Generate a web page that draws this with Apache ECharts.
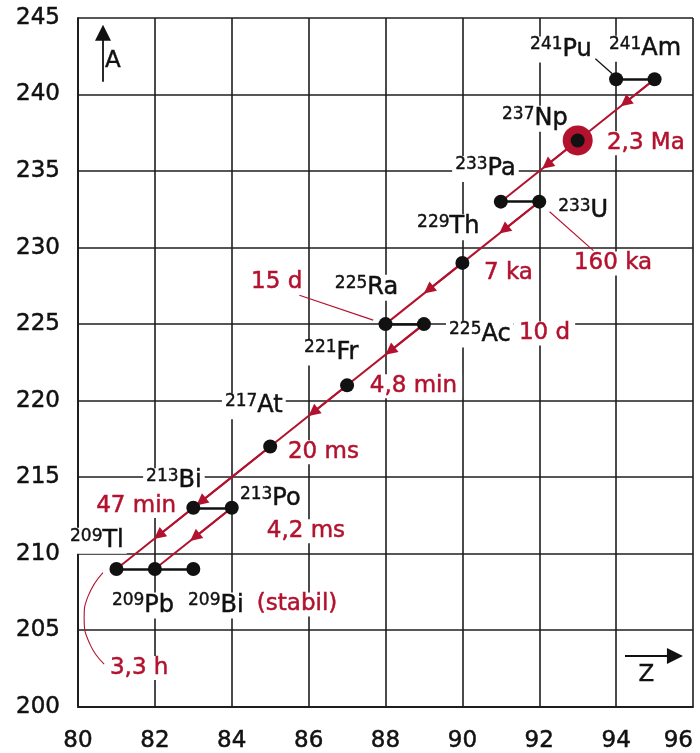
<!DOCTYPE html>
<html><head><meta charset="utf-8">
<script src="https://cdn.jsdelivr.net/npm/echarts@6/dist/echarts.min.js"></script>
<style>html,body{margin:0;padding:0;background:#fff}#c{width:700px;height:753px}</style>
</head><body><div id="c"></div>
<script>
// ---- data ----
const zRange = [80, 96, 2];      // min, max, interval (proton number Z)
const aRange = [200, 245, 5];    // min, max, interval (mass number A)
const nuclideSymbols = ['Pu','Am','Np','Pa','U','Th','Ra','Ac','Fr','At','Bi','Po','Tl','Pb','Bi'];
const nuclideZ = [94,95,93,91,92,90,88,89,87,85,83,84,81,82,83];
const nuclideA = [241,241,237,233,233,229,225,225,221,217,213,213,209,209,209];
const betaDecays = [[0,1],[3,4],[6,7],[10,11],[12,13],[13,14]];
const alphaDecays = [[1,2],[2,3],[4,5],[5,6],[7,8],[8,9],[9,10],[10,12],[11,13]];
const halfLifeTexts = ['2,3 Ma','160 ka','7 ka','15 d','10 d','4,8 min','20 ms','47 min','4,2 ms','(stabil)','3,3 h'];
const markedNuclide = 2; // 237Np

// ---- layout (label anchors in data units, not data) ----
const nuclideLabelPos = [[91.71,243.08],[93.76,243.12],[90.98,238.54],[89.76,235.26],[92.44,232.53],[88.77,231.46],[86.63,227.5],[89.6,224.45],[85.83,223.28],[83.77,219.77],[81.72,214.87],[84.16,213.7],[79.74,210.97],[80.83,206.75],[82.81,206.75]];
const halfLifePos = [[93.71,236.88],[92.85,229.03],[90.51,228.38],[84.45,227.82],[91.42,224.45],[87.54,221.0],[85.41,216.69],[80.42,213.18],[84.86,211.53],[84.6,206.75],[80.78,202.6]];
const arrowFrac = [0.38,0.4,0.46,0.44,0.44,0.44,0.9,0.45,0.48];
const blackLeaders = [[[93.46,242.34],[93.9,241.36]]];
const redLeaders = [[[92.27,232.34],[93.41,229.8]],[[85.76,226.88],[87.68,225.26]]];
const curveLeader = [[80.65,208.77],[80.26,207.21],[80.16,205.78],[80.31,204.09],[80.68,202.79]];
const axisArrows = [[[80.65,240.84],[80.65,244.03]],[[94.23,203.31],[95.53,203.31]]];
const axisNames = [{t:'A', p:[80.91,242.16]}, {t:'Z', p:[94.79,202.05]}];

const RED = '#b2122e', BLACK = '#111111', FONT = 'DejaVu Sans';
const pt = i => [nuclideZ[i], nuclideA[i]];

const chart = echarts.init(document.getElementById('c'), null, {renderer:'canvas'});
const axisCommon = {
  type:'value',
  axisLine:{show:true, lineStyle:{color:'#1e1e1e', width:2}},
  axisTick:{show:false},
  splitLine:{show:true, lineStyle:{color:'#1e1e1e', width:1.6}},
  axisLabel:{fontSize:23, color:'#111', fontFamily:FONT, textBorderColor:'#111', textBorderWidth:0.5}
};
const labelSeriesBase = {type:'scatter', z:2, silent:true, clip:false, symbolSize:0.01,
  itemStyle:{opacity:1, color:'rgba(0,0,0,0)'}};
const series = [];
// labels with white backgrounds
series.push(Object.assign({}, labelSeriesBase, {
  data: nuclideLabelPos.map((p,i)=>({value:p, label:{formatter:'{s|'+nuclideA[i]+'}{e|'+nuclideSymbols[i]+'}'}})),
  label:{show:true, position:'right', distance:0, offset:[-1,2], backgroundColor:'#fff', padding:[0,3,0,3],
    rich:{ s:{fontSize:17, fontFamily:FONT, color:BLACK, lineHeight:10, verticalAlign:'top', textBorderColor:BLACK, textBorderWidth:0.4},
           e:{fontSize:24, fontFamily:FONT, color:BLACK, lineHeight:26, textBorderColor:BLACK, textBorderWidth:0.5} } }
}));
series.push(Object.assign({}, labelSeriesBase, {
  data: halfLifePos.map((p,i)=>({value:p, label:{formatter:halfLifeTexts[i]}})),
  label:{show:true, position:'right', distance:0, offset:[-3,1], backgroundColor:'#fff', padding:[0,5,0,5],
    fontSize:23, fontFamily:FONT, color:RED, lineHeight:24, textBorderColor:RED, textBorderWidth:0.5}
}));
series.push(Object.assign({}, labelSeriesBase, {
  data: axisNames.map(o=>({value:o.p, label:{formatter:o.t}})),
  label:{show:true, position:'inside', fontSize:23, fontFamily:FONT, color:BLACK, textBorderColor:BLACK, textBorderWidth:0.4}
}));
// leader lines
series.push({type:'lines', coordinateSystem:'cartesian2d', z:3, silent:true,
  data: blackLeaders.map(c=>({coords:c})), lineStyle:{color:BLACK, width:1.3, opacity:1}});
series.push({type:'lines', coordinateSystem:'cartesian2d', z:3, silent:true,
  data: redLeaders.map(c=>({coords:c})), lineStyle:{color:RED, width:1.1, opacity:1}});
series.push({type:'line', z:3, silent:true, smooth:0.5, symbol:'none', data:curveLeader,
  lineStyle:{color:RED, width:1.1, opacity:1}});
// axis direction arrows
series.push({type:'lines', coordinateSystem:'cartesian2d', z:3, silent:true,
  data: axisArrows.map(c=>({coords:c})), symbol:['none','triangle'], symbolSize:[7,16],
  lineStyle:{color:BLACK, width:1.8, opacity:1}, itemStyle:{color:BLACK, opacity:1}});
// beta decays (black)
series.push({type:'lines', coordinateSystem:'cartesian2d', z:4, silent:true,
  data: betaDecays.map(d=>({coords:[pt(d[0]), pt(d[1])]})), lineStyle:{color:BLACK, width:2.5, opacity:1}});
// alpha decays (red)
series.push({type:'lines', coordinateSystem:'cartesian2d', z:4, silent:true,
  data: alphaDecays.map(d=>({coords:[pt(d[0]), pt(d[1])]})), lineStyle:{color:RED, width:2, opacity:1}});
series.push({type:'lines', coordinateSystem:'cartesian2d', z:4, silent:true,
  data: alphaDecays.map((d,k)=>{const a=pt(d[0]), b=pt(d[1]), t=arrowFrac[k];
     return {coords:[a,[a[0]+(b[0]-a[0])*t, a[1]+(b[1]-a[1])*t]]};}),
  symbol:['none','triangle'], symbolSize:[7,12],
  lineStyle:{color:RED, width:2, opacity:1}, itemStyle:{color:RED, opacity:1}});
// 237Np ring
series.push({type:'scatter', z:5, silent:true, symbolSize:30, itemStyle:{color:RED, opacity:1},
  data:[pt(markedNuclide)]});
// nuclide dots
series.push({type:'scatter', z:6, silent:true, symbolSize:14, itemStyle:{color:BLACK, opacity:1},
  data: nuclideZ.map((z,i)=>pt(i))});

chart.setOption({
  animation:false,
  grid:{left:78, right:7, top:18, bottom:42},
  xAxis:Object.assign({}, axisCommon, {min:zRange[0], max:zRange[1], interval:zRange[2],
    axisLabel:Object.assign({}, axisCommon.axisLabel, {margin:23, alignMaxLabel:'right'})}),
  yAxis:Object.assign({}, axisCommon, {min:aRange[0], max:aRange[1], interval:aRange[2],
    axisLabel:Object.assign({}, axisCommon.axisLabel, {margin:18, padding:[3,0,0,0]})}),
  series: series
});
</script></body></html>
